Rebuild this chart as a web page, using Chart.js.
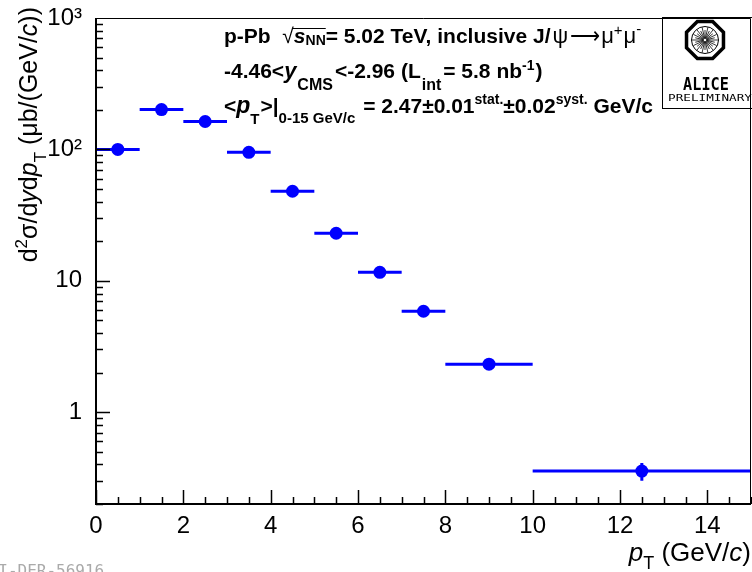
<!DOCTYPE html>
<html>
<head>
<meta charset="utf-8">
<script src="https://cdn.jsdelivr.net/npm/chart.js@4/dist/chart.umd.min.js"></script>
<style>
  html, body { margin: 0; padding: 0; background: #fff; }
  canvas { display: block; }
</style>
</head>
<body>
<canvas id="chart" width="752" height="572"></canvas>
<script>
// J/psi pT-differential cross section, p-Pb backward rapidity

const binLow = [0, 1, 2, 3, 4, 5, 6, 7, 8, 10];
const binHigh = [1, 2, 3, 4, 5, 6, 7, 8, 10, 15];
const ptCenter = [0.5, 1.5, 2.5, 3.5, 4.5, 5.5, 6.5, 7.5, 9, 12.5];
const xsec = [100, 201, 163, 95, 48, 23, 11.6, 5.86, 2.32, 0.356];
const xsecErr = [1.2, 2, 1.8, 1, 0.6, 0.3, 0.15, 0.08, 0.05, 0.055];

const xTickValues = [0, 2, 4, 6, 8, 10, 12, 14];
const yTickValues = [1, 10, 100, 1000];
const yTickLabels = ['1', '10', '10²', '10³'];

const FONT = '"Liberation Sans", Arial, Helvetica, sans-serif';
const BLUE = '#0000ff';

function fontOf(s) {
  return `${s.i ? 'italic ' : ''}${s.b ? 'bold ' : ''}${s.size}px ${FONT}`;
}

// draw a run of text pieces (sub/superscripts via dy), returns piece positions
function drawRich(ctx, x, y, segs, align) {
  let w = 0;
  segs.forEach(s => { ctx.font = fontOf(s); w += ctx.measureText(s.t).width + (s.gap || 0); });
  let cx = align === 'right' ? x - w : x;
  ctx.textAlign = 'left';
  ctx.textBaseline = 'alphabetic';
  const pos = [];
  segs.forEach(s => {
    ctx.font = fontOf(s);
    const sw = ctx.measureText(s.t).width;
    ctx.fillText(s.t, cx, y + (s.dy || 0));
    pos.push({ x: cx, w: sw });
    cx += sw + (s.gap || 0);
  });
  return pos;
}

// horizontal bin-width bars + vertical stat errors
const errorBars = {
  id: 'errorBars',
  beforeDatasetsDraw(chart) {
    const { ctx, scales: { x, y } } = chart;
    ctx.save();
    ctx.strokeStyle = BLUE;
    ctx.lineWidth = 3;
    for (let i = 0; i < xsec.length; i++) {
      const py = y.getPixelForValue(xsec[i]);
      ctx.beginPath();
      ctx.moveTo(x.getPixelForValue(binLow[i]), py);
      ctx.lineTo(x.getPixelForValue(binHigh[i]), py);
      const px = x.getPixelForValue(ptCenter[i]);
      ctx.moveTo(px, y.getPixelForValue(xsec[i] - xsecErr[i]));
      ctx.lineTo(px, y.getPixelForValue(xsec[i] + xsecErr[i]));
      ctx.stroke();
    }
    ctx.restore();
  }
};

// ROOT style frame with inward ticks
const frameTicks = {
  id: 'frameTicks',
  afterDatasetsDraw(chart) {
    const { ctx, chartArea: a, scales: { x, y } } = chart;
    ctx.save();
    ctx.strokeStyle = '#000';
    ctx.lineWidth = 1;
    ctx.beginPath();
    ctx.moveTo(a.left, a.top + 0.5);
    ctx.lineTo(a.right - 0.5, a.top + 0.5);
    ctx.lineTo(a.right - 0.5, a.bottom);
    ctx.stroke();
    ctx.lineWidth = 2;
    ctx.beginPath();
    ctx.moveTo(a.left, a.top);
    ctx.lineTo(a.left, a.bottom);
    ctx.lineTo(a.right, a.bottom);
    ctx.stroke();

    ctx.lineWidth = 1.5;
    ctx.beginPath();
    for (let k = 0; k <= 30; k++) {
      const v = k * 0.5;
      const px = Math.round(x.getPixelForValue(v)) + 0.5;
      const len = (k % 4 === 0) ? 14 : 7;
      ctx.moveTo(px, a.bottom);
      ctx.lineTo(px, a.bottom - len);
    }
    [0.1, 1, 10, 100].forEach(d => {
      for (let m = 1; m <= 9; m++) {
        const v = m * d;
        if (v < y.min - 1e-9 || v > y.max + 1e-9) continue;
        const py = Math.round(y.getPixelForValue(v)) + 0.5;
        const len = m === 1 ? 14 : 7;
        ctx.moveTo(a.left, py);
        ctx.lineTo(a.left + len, py);
      }
    });
    ctx.stroke();
    ctx.restore();
  }
};

function drawLogo(ctx) {
  ctx.save();
  ctx.strokeStyle = '#000';
  ctx.fillStyle = '#000';
  ctx.lineWidth = 1;
  ctx.strokeRect(662.5, 17.5, 100, 91);
  const cx = 705, cy = 40, r = 20;
  ctx.lineWidth = 3.5;
  ctx.beginPath();
  for (let k = 0; k < 8; k++) {
    const ang = Math.PI / 8 + k * Math.PI / 4;
    const vx = cx + r * Math.cos(ang), vy = cy + r * Math.sin(ang);
    if (k === 0) ctx.moveTo(vx, vy); else ctx.lineTo(vx, vy);
  }
  ctx.closePath();
  ctx.stroke();
  ctx.lineWidth = 1;
  ctx.beginPath();
  ctx.arc(cx, cy, 13.5, 0, Math.PI * 2);
  ctx.stroke();
  ctx.lineWidth = 0.8;
  ctx.beginPath();
  for (let k = 0; k < 28; k++) {
    const ang = k * Math.PI * 2 / 28;
    const rr = (k % 2) ? 10 : 13;
    ctx.moveTo(cx + 1.5 * Math.cos(ang), cy + 1.5 * Math.sin(ang));
    ctx.lineTo(cx + rr * Math.cos(ang), cy + rr * Math.sin(ang));
  }
  ctx.stroke();
  ctx.textAlign = 'center';
  ctx.textBaseline = 'alphabetic';
  ctx.font = 'bold 16px "DejaVu Sans Mono", monospace';
  ctx.save();
  ctx.translate(cx + 1, 90);
  ctx.scale(0.95, 1.1);
  ctx.fillText('ALICE', 0, 0);
  ctx.restore();
  ctx.save();
  ctx.translate(cx + 5, 101);
  ctx.scale(1.15, 0.8);
  ctx.font = '11px "DejaVu Sans Mono", monospace';
  ctx.fillText('PRELIMINARY', 0, 0);
  ctx.restore();
  ctx.restore();
}

const annotations = {
  id: 'annotations',
  afterDraw(chart) {
    const { ctx } = chart;
    ctx.save();
    ctx.fillStyle = '#000';

    // x title
    drawRich(ctx, 751, 561, [
      { t: 'p', i: true, size: 26 },
      { t: 'T', size: 18, dy: 8 },
      { t: ' (GeV/', size: 26 },
      { t: 'c', i: true, size: 26 },
      { t: ')', size: 26 }
    ], 'right');

    // y title (rotated)
    ctx.save();
    ctx.translate(37, 0);
    ctx.rotate(-Math.PI / 2);
    drawRich(ctx, -7, 0, [
      { t: 'd', size: 25 },
      { t: '2', size: 17, dy: -10 },
      { t: 'σ/d', size: 25 },
      { t: 'y', i: true, size: 25 },
      { t: 'd', size: 25 },
      { t: 'p', i: true, size: 25 },
      { t: 'T', size: 17, dy: 9 },
      { t: ' (μb/(GeV/', size: 25 },
      { t: 'c', i: true, size: 25 },
      { t: '))', size: 25 }
    ], 'right');
    ctx.restore();

    // header text
    const p1 = drawRich(ctx, 224, 43, [
      { t: 'p-Pb  ', b: true, size: 21 },
      { t: '√', size: 21 },
      { t: 's', b: true, i: true, size: 21 },
      { t: 'NN', b: true, size: 14, dy: 2 },
      { t: '= 5.02 TeV, inclusive J/', b: true, size: 21, gap: 2 },
      { t: 'ψ', size: 22, gap: 2 },
      { t: '⟶', size: 21, gap: 1 },
      { t: 'μ', size: 22 },
      { t: '+', size: 15, dy: -8, gap: 1 },
      { t: 'μ', size: 22 },
      { t: '-', size: 15, dy: -9 }
    ]);
    ctx.lineWidth = 1;
    ctx.beginPath();
    ctx.moveTo(p1[1].x + p1[1].w - 1, 28.5);
    ctx.lineTo(p1[3].x + p1[3].w, 28.5);
    ctx.stroke();

    drawRich(ctx, 224, 78, [
      { t: '-4.46<', b: true, size: 21 },
      { t: 'y', b: true, i: true, size: 22, gap: 1 },
      { t: 'CMS', b: true, size: 16, dy: 12, gap: 2 },
      { t: '<-2.96 (L', b: true, size: 21, gap: 1 },
      { t: 'int', b: true, size: 16, dy: 12, gap: 2 },
      { t: '= 5.8 nb', b: true, size: 21 },
      { t: '-1', b: true, size: 14, dy: -8, gap: 1 },
      { t: ')', b: true, size: 21 }
    ]);

    drawRich(ctx, 224, 113, [
      { t: '<', b: true, size: 21 },
      { t: 'p', b: true, i: true, size: 23 },
      { t: 'T', b: true, size: 15, dy: 11, gap: 1 },
      { t: '>|', b: true, size: 21 },
      { t: '0-15 GeV/c', b: true, size: 15, dy: 10, gap: 2 },
      { t: ' = 2.47±0.01', b: true, size: 21 },
      { t: 'stat.', b: true, size: 14, dy: -9 },
      { t: '±0.02', b: true, size: 21 },
      { t: 'syst.', b: true, size: 14, dy: -9 },
      { t: ' GeV/c', b: true, size: 21 }
    ]);

    drawLogo(ctx);

    // figure id, clipped at the left edge
    ctx.fillStyle = '#aaaaaa';
    ctx.font = '16px "DejaVu Sans Mono", monospace';
    ctx.textAlign = 'left';
    ctx.fillText('ALI-DER-56916', -21, 576);
    ctx.restore();
  }
};

new Chart(document.getElementById('chart'), {
  type: 'scatter',
  data: {
    datasets: [{
      data: ptCenter.map((v, i) => ({ x: v, y: xsec[i] })),
      pointRadius: 6.5,
      pointHoverRadius: 6.5,
      pointStyle: 'circle',
      backgroundColor: BLUE,
      borderColor: BLUE,
      borderWidth: 0
    }]
  },
  options: {
    responsive: false,
    animation: false,
    devicePixelRatio: 1,
    layout: { autoPadding: false, padding: { top: 18, right: 1, left: 0, bottom: 0 } },
    plugins: {
      legend: { display: false },
      tooltip: { enabled: false },
      title: { display: false }
    },
    scales: {
      x: {
        type: 'linear',
        min: 0,
        max: 15,
        afterBuildTicks: s => { s.ticks = xTickValues.map(v => ({ value: v })); },
        afterFit: s => { s.height = 68; s.paddingLeft = 0; s.paddingRight = 0; },
        grid: { display: false },
        border: { display: false },
        ticks: {
          autoSkip: false,
          maxRotation: 0,
          padding: 0,
          color: '#000',
          font: { size: 24, family: FONT }
        }
      },
      y: {
        type: 'logarithmic',
        min: 0.2,
        max: 1000,
        afterBuildTicks: s => { s.ticks = yTickValues.map(v => ({ value: v })); },
        afterFit: s => { s.width = 96; s.paddingTop = 0; s.paddingBottom = 0; },
        grid: { display: false },
        border: { display: false },
        ticks: {
          autoSkip: false,
          padding: 6,
          color: '#000',
          font: { size: 24, family: FONT },
          callback: v => {
            const k = yTickValues.indexOf(v);
            return k >= 0 ? yTickLabels[k] : '';
          }
        }
      }
    }
  },
  plugins: [errorBars, frameTicks, annotations]
});
</script>
</body>
</html>
